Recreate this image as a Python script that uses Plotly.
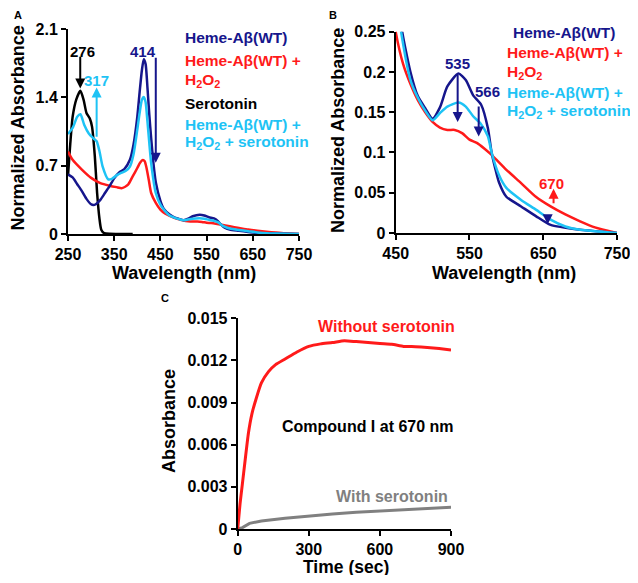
import plotly.graph_objects as go

# page body has an 8px margin; the figure is placed at (8, 8)
OFF = 8
W, H = 638 - 2 * OFF, 583 - 2 * OFF

# ---------------- Panel A data ----------------
wl_wt_a = [250, 260, 270, 280, 290, 300, 305, 310, 320, 330, 340, 350, 362, 372, 384, 392, 400, 405, 410, 414, 418, 422, 426, 430, 435, 440, 450, 457, 470, 480, 490, 500, 510, 520, 535, 545, 555, 566, 575, 580, 585, 590, 600, 620, 640, 660, 700, 750]
abs_wt_a = [0.61, 0.58, 0.51, 0.44, 0.36, 0.305, 0.298, 0.305, 0.35, 0.42, 0.49, 0.57, 0.635, 0.665, 0.76, 0.92, 1.2, 1.45, 1.68, 1.79, 1.74, 1.5, 1.22, 0.98, 0.72, 0.53, 0.34, 0.26, 0.2, 0.17, 0.155, 0.142, 0.156, 0.182, 0.198, 0.19, 0.171, 0.159, 0.13, 0.1, 0.08, 0.063, 0.045, 0.033, 0.021, 0.01, 0.004, 0.0]

wl_h2o2_a = [250, 260, 280, 300, 320, 340, 355, 367, 380, 390, 400, 406, 412, 416, 420, 425, 430, 440, 450, 460, 470, 480, 490, 500, 510, 520, 530, 540, 550, 560, 570, 580, 600, 620, 640, 660, 680, 700, 720, 750]
abs_h2o2_a = [0.845, 0.76, 0.66, 0.575, 0.522, 0.495, 0.48, 0.47, 0.505, 0.59, 0.676, 0.73, 0.758, 0.745, 0.676, 0.55, 0.42, 0.318, 0.25, 0.21, 0.185, 0.165, 0.15, 0.138, 0.131, 0.128, 0.128, 0.124, 0.116, 0.112, 0.105, 0.097, 0.0785, 0.062, 0.045, 0.033, 0.023, 0.0145, 0.007, 0.0]

wl_sero_a = [250, 255, 260, 268, 277, 284, 290, 297, 302, 308, 313, 318, 322, 328, 340, 390]
abs_sero_a = [0.6, 0.93, 1.2, 1.38, 1.468, 1.37, 1.24, 1.185, 1.1, 0.8, 0.42, 0.16, 0.044, 0.01, 0.002, 0.0]

wl_mix_a = [250, 260, 270, 277, 285, 295, 305, 312, 318, 325, 337, 345, 355, 366, 376, 384, 392, 400, 405, 410, 414, 418, 422, 426, 430, 440, 450, 460, 470, 480, 490, 500, 510, 520, 535, 545, 555, 565, 575, 580, 590, 600, 620, 640, 660, 680, 700, 750]
abs_mix_a = [1.025, 1.086, 1.2, 1.226, 1.12, 1.03, 0.98, 0.95, 0.85, 0.69, 0.56, 0.565, 0.6, 0.628, 0.65, 0.69, 0.82, 1.07, 1.24, 1.376, 1.403, 1.35, 1.15, 0.93, 0.727, 0.42, 0.3, 0.235, 0.19, 0.168, 0.152, 0.14, 0.149, 0.157, 0.162, 0.157, 0.145, 0.136, 0.12, 0.1, 0.072, 0.056, 0.041, 0.029, 0.0165, 0.008, 0.004, 0.0]

# ---------------- Panel C data ----------------
t_without = [0, 5, 10, 20, 30, 45, 60, 80, 100, 130, 160, 200, 250, 300, 350, 400, 450, 500, 550, 600, 650, 700, 750, 800, 850, 900]
abs_without = [0.0, 0.0009, 0.0018, 0.00325, 0.0047, 0.0068, 0.0082, 0.0094, 0.0104, 0.0112, 0.0117, 0.0121, 0.0126, 0.013, 0.01318, 0.01327, 0.0134, 0.01334, 0.01328, 0.0132, 0.01315, 0.0130, 0.01298, 0.01293, 0.01285, 0.01275]

t_with = [0, 10, 20, 50, 100, 200, 300, 400, 500, 600, 700, 800, 900]
abs_with = [0.0, 0.00003, 0.0001, 0.0004, 0.00057, 0.00076, 0.00093, 0.00107, 0.00119, 0.00128, 0.00137, 0.00145, 0.00154]

ticks_a_y = [0, 0.7, 1.4, 2.1]
ticktext_a_y = ["0", "0.7", "1.4", "2.1"]
ticks_b_y = [0, 0.05, 0.1, 0.15, 0.2, 0.25]
ticktext_b_y = ["0", "0.05", "0.1", "0.15", "0.2", "0.25"]
ticks_c_y = [0, 0.003, 0.006, 0.009, 0.012, 0.015]
ticktext_c_y = ["0", "0.003", "0.006", "0.009", "0.012", "0.015"]
ticks_ab_x = [250, 350, 450, 550, 650, 750]
ticks_b_x = [450, 550, 650, 750]
ticks_c_x = [0, 300, 600, 900]

NAVY = "#16168C"
RED = "#FF1A1A"
CYAN = "#1EC3F5"
BLACK = "#000000"
GRAY = "#808080"
FONT = "Liberation Sans, Arial, sans-serif"


def fx(x):
    return (x - OFF) / W


def fy(y):
    return 1 - (y - OFF) / H


fig = go.Figure()

lw = 2.5
sp = dict(shape="spline", smoothing=0.6)
# Panel A
fig.add_trace(go.Scatter(x=wl_sero_a, y=abs_sero_a, mode="lines", line=dict(color=BLACK, width=lw, **sp), xaxis="x", yaxis="y"))
fig.add_trace(go.Scatter(x=wl_h2o2_a, y=abs_h2o2_a, mode="lines", line=dict(color=RED, width=lw, **sp), xaxis="x", yaxis="y"))
fig.add_trace(go.Scatter(x=wl_wt_a, y=abs_wt_a, mode="lines", line=dict(color=NAVY, width=lw, **sp), xaxis="x", yaxis="y"))
fig.add_trace(go.Scatter(x=wl_mix_a, y=abs_mix_a, mode="lines", line=dict(color=CYAN, width=lw, **sp), xaxis="x", yaxis="y"))

# Panel B (same spectra, zoomed)
fig.add_trace(go.Scatter(x=wl_h2o2_a, y=abs_h2o2_a, mode="lines", line=dict(color=RED, width=lw, **sp), xaxis="x2", yaxis="y2"))
fig.add_trace(go.Scatter(x=wl_wt_a, y=abs_wt_a, mode="lines", line=dict(color=NAVY, width=lw, **sp), xaxis="x2", yaxis="y2"))
fig.add_trace(go.Scatter(x=wl_mix_a, y=abs_mix_a, mode="lines", line=dict(color=CYAN, width=lw, **sp), xaxis="x2", yaxis="y2"))

# Panel C
fig.add_trace(go.Scatter(x=t_with, y=abs_with, mode="lines", line=dict(color=GRAY, width=3), xaxis="x3", yaxis="y3"))
fig.add_trace(go.Scatter(x=t_without, y=abs_without, mode="lines", line=dict(color=RED, width=3, shape="spline", smoothing=0.5), xaxis="x3", yaxis="y3"))

axis_common = dict(showline=True, linecolor="black", linewidth=2, ticks="outside", ticklen=5, tickwidth=2,
                   tickcolor="black", showgrid=False, zeroline=False, automargin=False,
                   ticklabeloverflow="allow",
                   tickfont=dict(family=FONT, size=16, color="black", weight="bold"))

fig.update_layout(
    width=W, height=H, margin=dict(l=0, r=0, t=0, b=0, autoexpand=False),
    paper_bgcolor="white", plot_bgcolor="white", showlegend=False,
    xaxis=dict(domain=[fx(68), fx(299)], range=[250, 750], tickvals=ticks_ab_x, anchor="y", **axis_common),
    yaxis=dict(domain=[fy(234), fy(29)], range=[0, 2.1], tickvals=ticks_a_y, ticktext=ticktext_a_y, anchor="x", **axis_common),
    xaxis2=dict(domain=[fx(395.7), fx(617)], range=[450, 750], tickvals=ticks_b_x, anchor="y2", **axis_common),
    yaxis2=dict(domain=[fy(233), fy(31.7)], range=[0, 0.25], tickvals=ticks_b_y, ticktext=ticktext_b_y, anchor="x2", **axis_common),
    xaxis3=dict(domain=[fx(237.7), fx(451)], range=[0, 900], tickvals=ticks_c_x, anchor="y3", **axis_common),
    yaxis3=dict(domain=[fy(529), fy(318.3)], range=[0, 0.015], tickvals=ticks_c_y, ticktext=ticktext_c_y, anchor="x3", **axis_common),
)

ann = []


def text(x, y, s, color="black", size=16, angle=0, xanchor="center"):
    ann.append(dict(x=fx(x), y=fy(y), xref="paper", yref="paper", text=s, showarrow=False, textangle=angle,
                    xanchor=xanchor, yanchor="middle",
                    font=dict(family=FONT, size=size, color=color, weight="bold")))


def arrow(xr, yr, x, y0, y1, color):
    ann.append(dict(x=x, y=y1, ax=x, ay=y0, xref=xr, yref=yr, axref=xr, ayref=yr, text="",
                    showarrow=True, arrowhead=2, arrowsize=1, arrowwidth=2, arrowcolor=color))


# axis titles
text(18, 128.5, "Normalized Absorbance", size=18, angle=-90)
text(184, 273, "Wavelength (nm)", size=18)
text(338, 131, "Normalized Absorbance", size=18, angle=-90)
text(504.3, 273, "Wavelength (nm)", size=18)
text(168.3, 420.8, "Absorbance", size=18, angle=-90)
text(345.5, 566.5, "Time (sec)", size=17.5)

# panel letters
text(18, 15, "A", size=11)
text(333, 15, "B", size=11)
text(165, 298, "C", size=11)

LS = 15.5
# Panel A legend text
text(182.7, 37.7, "Heme-Aβ(WT)", NAVY, size=LS, xanchor="left")
text(182.7, 60, "Heme-Aβ(WT) +", RED, size=LS, xanchor="left")
text(182.7, 80, "H<sub>2</sub>O<sub>2</sub>", RED, size=LS, xanchor="left")
text(182.7, 103, "Serotonin", BLACK, size=LS, xanchor="left")
text(182.7, 124, "Heme-Aβ(WT) +", CYAN, size=LS, xanchor="left")
text(182.7, 142, "H<sub>2</sub>O<sub>2</sub> + serotonin", CYAN, size=LS, xanchor="left")

# Panel B legend text
text(511, 33, "Heme-Aβ(WT)", NAVY, size=LS, xanchor="left")
text(504.7, 53, "Heme-Aβ(WT) +", RED, size=LS, xanchor="left")
text(504.7, 73, "H<sub>2</sub>O<sub>2</sub>", RED, size=LS, xanchor="left")
text(504.7, 92, "Heme-Aβ(WT) +", CYAN, size=LS, xanchor="left")
text(504.7, 111, "H<sub>2</sub>O<sub>2</sub> + serotonin", CYAN, size=LS, xanchor="left")

# Peak labels
text(82.7, 51.7, "276", BLACK, size=15)
text(96, 81, "317", CYAN, size=15)
text(143.3, 51.7, "414", NAVY, size=15)
text(457.3, 63.3, "535", NAVY, size=15)
text(487.3, 91.7, "566", NAVY, size=15)
text(551.3, 183.3, "670", RED, size=15)

# Panel C labels
text(386.7, 326.7, "Without serotonin", RED)
text(368, 426.7, "Compound I at 670 nm", BLACK)
text(392.2, 496.7, "With serotonin", GRAY)

# Arrows
arrow("x", "y", 276.5, 1.83, 1.49, BLACK)
arrow("x", "y", 312, 0.98, 1.5, CYAN)
arrow("x", "y", 440, 1.82, 0.73, NAVY)
arrow("x2", "y2", 534, 0.198, 0.138, NAVY)
arrow("x2", "y2", 562.5, 0.159, 0.12, NAVY)
arrow("x2", "y2", 664, 0.035, 0.055, RED)
arrow("x2", "y2", 656, 0.022, 0.011, NAVY)

fig.update_layout(annotations=ann)
fig.write_html("out.html")
